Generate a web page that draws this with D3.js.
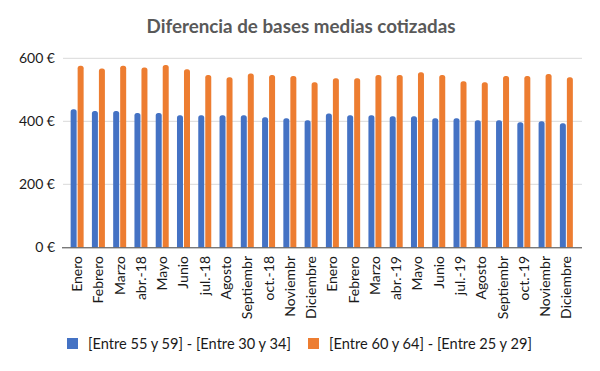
<!DOCTYPE html>
<html>
<head>
<meta charset="utf-8">
<script src="https://cdn.jsdelivr.net/npm/d3@7"></script>
<style>
  body { margin: 0; background: #fff; }
  svg { display: block; font-family: Lato, "Noto Sans", sans-serif; }
</style>
</head>
<body>
<svg width="600" height="371"></svg>
<script>
// Month labels (two years, as in the source sheet)
var months = ["Enero", "Febrero", "Marzo", "abr.-18", "Mayo", "Junio", "jul.-18", "Agosto", "Septiembr", "oct.-18", "Noviembr", "Diciembre",
    "Enero", "Febrero", "Marzo", "abr.-19", "Mayo", "Junio", "jul.-19", "Agosto", "Septiembr", "oct.-19", "Noviembr", "Diciembre"];

// [Entre 55 y 59] - [Entre 30 y 34]
var serieA = [438, 433, 433, 426, 426, 419, 419, 419, 419, 413, 410, 403,
    425, 419, 419, 416, 416, 410, 410, 403, 403, 397, 400, 394];

// [Entre 60 y 64] - [Entre 25 y 29]
var serieB = [576, 568, 576, 571, 579, 565, 547, 540, 552, 547, 544, 524,
    537, 537, 547, 547, 556, 547, 527, 524, 544, 544, 550, 540];

var seriesNames = ["[Entre 55 y 59] - [Entre 30 y 34]", "[Entre 60 y 64] - [Entre 25 y 29]"];
var seriesColors = ["#4472c4", "#ed7d31"];
var yTicks = [0, 200, 400, 600];

var svg = d3.select("svg");
var plotLeft = 63, plotRight = 582, plotTop = 58.3, plotBottom = 247.3;

var x = d3.scaleBand().domain(d3.range(months.length)).range([66.5, 577]).padding(0);
var y = d3.scaleLinear().domain([0, 600]).range([plotBottom, plotTop]);

// title
svg.append("text")
    .attr("x", 301)
    .attr("y", 33)
    .attr("text-anchor", "middle")
    .style("font-size", "18.8px")
    .style("font-weight", "bold")
    .style("fill", "#595959")
    .text("Diferencia de bases medias cotizadas");

// gridlines
svg.append("g")
    .selectAll("line")
    .data(yTicks.filter(function (d) { return d > 0; }))
    .enter().append("line")
    .attr("x1", plotLeft)
    .attr("x2", plotRight)
    .attr("y1", function (d) { return y(d); })
    .attr("y2", function (d) { return y(d); })
    .attr("stroke", "#d9d9d9")
    .attr("stroke-width", 1);

// y labels
svg.append("g")
    .selectAll("text")
    .data(yTicks)
    .enter().append("text")
    .attr("x", 55)
    .attr("y", function (d) { return y(d) + 5; })
    .attr("text-anchor", "end")
    .style("font-size", "14px")
    .style("fill", "#1a1a1a")
    .text(function (d) { return d + " €"; });

// rounded-top bar path
function barPath(x0, w, yTop, yBase) {
    var r = Math.min(2.5, w / 2);
    return "M" + x0 + "," + yBase +
        "V" + (yTop + r) +
        "Q" + x0 + "," + yTop + " " + (x0 + r) + "," + yTop +
        "H" + (x0 + w - r) +
        "Q" + (x0 + w) + "," + yTop + " " + (x0 + w) + "," + (yTop + r) +
        "V" + yBase + "Z";
}

var barW = 6;
var gap = 1;
[serieA, serieB].forEach(function (serie, s) {
    svg.append("g")
        .selectAll("path")
        .data(serie)
        .enter().append("path")
        .attr("d", function (d, i) {
            var c = x(i) + x.bandwidth() / 2;
            var x0 = s === 0 ? c - gap / 2 - barW : c + gap / 2;
            return barPath(x0, barW, y(d), y(0));
        })
        .attr("fill", seriesColors[s]);
});

// baseline
svg.append("line")
    .attr("x1", plotLeft - 1)
    .attr("x2", plotRight)
    .attr("y1", y(0) + 0.5)
    .attr("y2", y(0) + 0.5)
    .attr("stroke", "#404040")
    .attr("stroke-width", 1);

// x labels, rotated
svg.append("g")
    .selectAll("text")
    .data(months)
    .enter().append("text")
    .attr("transform", function (d, i) {
        return "translate(" + (x(i) + x.bandwidth() / 2 + 5) + "," + 256 + ") rotate(-90)";
    })
    .attr("text-anchor", "end")
    .style("font-size", "14px")
    .style("fill", "#1a1a1a")
    .text(function (d) { return d; });

// legend
var legendX = [67, 308];
var legend = svg.append("g")
    .selectAll("g")
    .data(seriesNames)
    .enter().append("g")
    .attr("transform", function (d, i) { return "translate(" + legendX[i] + ",338)"; });

legend.append("rect")
    .attr("width", 11)
    .attr("height", 11)
    .attr("fill", function (d, i) { return seriesColors[i]; });

legend.append("text")
    .attr("x", 21)
    .attr("y", 10.5)
    .style("font-size", "14.6px")
    .style("fill", "#1a1a1a")
    .text(function (d) { return d; });
</script>
</body>
</html>
